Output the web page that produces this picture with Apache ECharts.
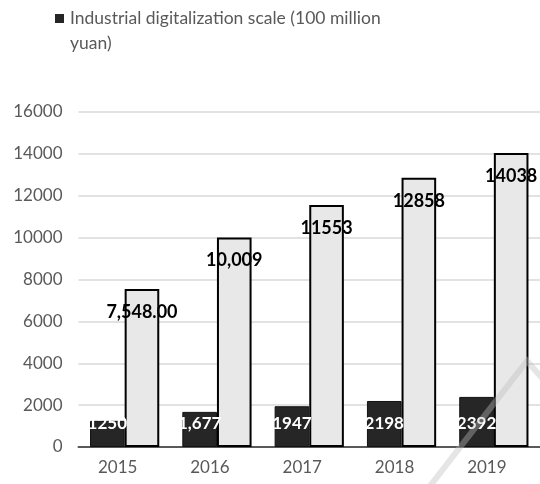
<!DOCTYPE html>
<html><head><meta charset="utf-8">
<script src="https://cdn.jsdelivr.net/npm/echarts@6/dist/echarts.min.js"></script>
<style>html,body{margin:0;padding:0;background:#fff}#c{width:540px;height:484px}</style>
</head><body><div id="c"></div>
<script>
const categories = ['2015','2016','2017','2018','2019'];
const scaleValues = [1250, 1677, 1947, 2198, 2392];
const scaleLabels = ['1250', '1,677', '1947', '2198', '2392'];
const otherValues = [7548, 10009, 11553, 12858, 14038];
const otherLabels = ['7,548.00', '10,009', '11553', '12858', '14038'];
const seriesName = 'Industrial digitalization scale (100 million yuan)';

const chart = echarts.init(document.getElementById('c'));
const FONT = 'Lato';
chart.setOption({
  animation: false,
  backgroundColor: '#fff',
  textStyle: { fontFamily: FONT },
  legend: {
    data: [seriesName],
    left: 44, top: 1,
    icon: 'rect', itemWidth: 0, itemHeight: 0, itemGap: 0,
    formatter: () => '{sq|}{gap|}{t|Industrial digitalization scale (100 million}\n{sp|}{t|yuan)}',
    textStyle: {
      color: '#595959', fontSize: 17.5, fontFamily: FONT, lineHeight: 25,
      rich: {
        sq: { width: 9, height: 9, backgroundColor: '#262626' },
        gap: { width: 6 },
        sp: { width: 15 },
        t: { color: '#595959', fontSize: 17.5, fontFamily: FONT, lineHeight: 25 }
      }
    }
  },
  grid: { left: 78.5, right: -3.5, top: 112, bottom: 37, containLabel: false },
  xAxis: {
    type: 'category', data: categories,
    axisLine: { lineStyle: { color: '#595959', width: 2 } },
    axisTick: { show: false },
    axisLabel: { color: '#595959', fontSize: 17, fontFamily: FONT, margin: 12, padding: [0, 14, 0, 0] }
  },
  yAxis: {
    type: 'value', min: 0, max: 16000, interval: 2000,
    axisLine: { show: false }, axisTick: { show: false },
    axisLabel: { color: '#595959', fontSize: 17, fontFamily: FONT, margin: 16, formatter: v => String(v) },
    splitLine: { lineStyle: { color: '#d9d9d9', width: 1.5 } }
  },
  series: [
    {
      name: seriesName, type: 'bar', data: scaleValues,
      barGap: '0%', barCategoryGap: '25%',
      itemStyle: { color: '#262626', borderColor: '#111', borderWidth: 1 },
      label: {
        show: true, position: 'insideBottom', distance: 15,
        color: '#fff', fontWeight: 'bold', fontSize: 17, fontFamily: FONT,
        formatter: p => scaleLabels[p.dataIndex]
      }
    },
    {
      name: 'other', type: 'bar', data: otherValues,
      itemStyle: { color: '#e8e8e8', borderColor: '#000', borderWidth: 2 },
      label: {
        show: true, position: 'insideTop', distance: 14,
        color: '#000', fontWeight: 'bold', fontSize: 18, fontFamily: FONT,
        formatter: p => otherLabels[p.dataIndex]
      }
    }
  ],
  graphic: [{
    type: 'polyline', z: 100, silent: true,
    shape: { points: [[430, 486], [527, 361], [542, 378]] },
    style: { stroke: 'rgba(190,190,190,0.4)', lineWidth: 6, fill: null }
  }]
});
</script></body></html>
